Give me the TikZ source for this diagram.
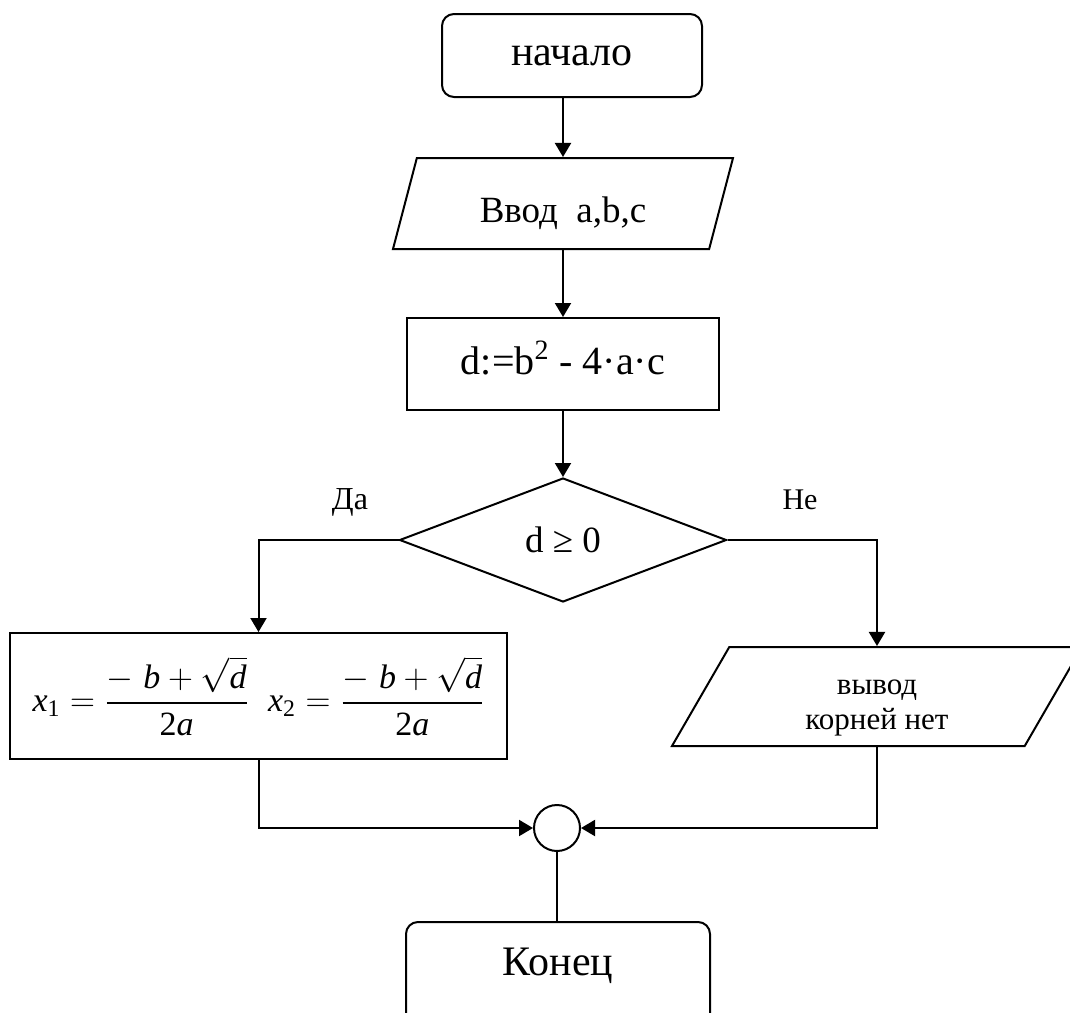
\documentclass[tikz,border=0pt]{standalone}
\usepackage{amsmath}
\usepackage{fontspec}
\setmainfont{Liberation Serif}
\usetikzlibrary{shapes.geometric}
\usetikzlibrary{arrows.meta}

\newcommand\mv[1]{\text{\itshape #1}}   % italic letter in formula
\newcommand\mn[1]{\text{\upshape #1}}   % upright digit in formula

\begin{document}
\begin{tikzpicture}[x=0.5pt,y=-0.5pt,line width=1pt,
    arr/.style={-{Triangle[length=7pt,width=8pt]}},
    block/.style={draw,rectangle,inner sep=0pt},
    term/.style={block,rounded corners=6pt},
    inout/.style={draw,trapezium,trapezium stretches body,inner sep=0pt},
    cond/.style={draw,diamond,aspect=2.64,inner sep=0pt}]

  \useasboundingbox (0,0) rectangle (1070,1012);
  \pgfmathsetmacro\xmain{563}   % x of the main column

% main column
  \node[term,minimum width=130pt,minimum height=41.5pt,font=\fontsize{21}{25}\selectfont] (start) at (572,55.5) {начало};
  \node[inout,trapezium left angle=54,trapezium right angle=126,minimum width=170pt,minimum height=45.5pt,
        font=\fontsize{18.5}{22}\selectfont] (input) at (\xmain,203.5) {\raisebox{-5pt}[\height][\depth]{Ввод\ \ a,b,c}};
  \node[block,minimum width=156pt,minimum height=46pt,font=\fontsize{20}{24}\selectfont] (calc) at (\xmain,364) {\raisebox{3pt}[\height][\depth]{d:=b\textsuperscript{2} - 4·a·c}};
  \node[cond,minimum width=163.5pt,minimum height=62pt,font=\fontsize{18.5}{22}\selectfont] (test) at (\xmain,540) {d ≥ 0};

% branch labels
  \node[font=\fontsize{16}{19}\selectfont] (yes) at (350,502) {Да};
  \node[font=\fontsize{15}{18}\selectfont] (no) at (800,500) {Не};

% branches
  \node[block,minimum width=248.5pt,minimum height=63pt,font=\fontsize{17}{20}\selectfont] (roots) at (258.5,696)
        {$\mv{x}_{\mn{1}}=\dfrac{-\;\mv{b}+\sqrt{\mv{d}}}{\mn{2}\mv{a}}\;\; \mv{x}_{\mn{2}}=\dfrac{-\;\mv{b}+\sqrt{\mv{d}}}{\mn{2}\mv{a}}$};
  \node[inout,trapezium left angle=50.7,trapezium right angle=129.3,minimum width=205pt,minimum height=49.5pt,
        font=\fontsize{15.5}{17.5}\selectfont] (noroot) at (877,696.5)
        {\raisebox{-4pt}[\height][\depth]{\begin{tabular}{@{}c@{}}вывод\\корней нет\end{tabular}}};

% join and end
  \node[draw,circle,minimum size=23pt,inner sep=0pt] (join) at (557,828) {};
  \node[term,minimum width=152pt,minimum height=60pt,font=\fontsize{21}{25}\selectfont] (stop) at (558,982) {\raisebox{8pt}[\height][\depth]{Конец}};

% connectors
  \draw[arr] (start.south -| input.center) -- (input.center |- input.north);
  \draw[arr] (input.center |- input.south) -- (calc.north);
  \draw[arr] (calc.south) -- (test.north);
  \draw[arr] (test.west) -| (roots.north);
  \draw[arr] (test.east) -| (noroot.center |- noroot.north);
  \draw[arr] (roots.south) |- (join.west);
  \draw[arr] (noroot.center |- noroot.south) |- (join.east);
  \draw[line width=0.6pt] (join.south) -- (join.south |- stop.north);

\end{tikzpicture}
\end{document}
